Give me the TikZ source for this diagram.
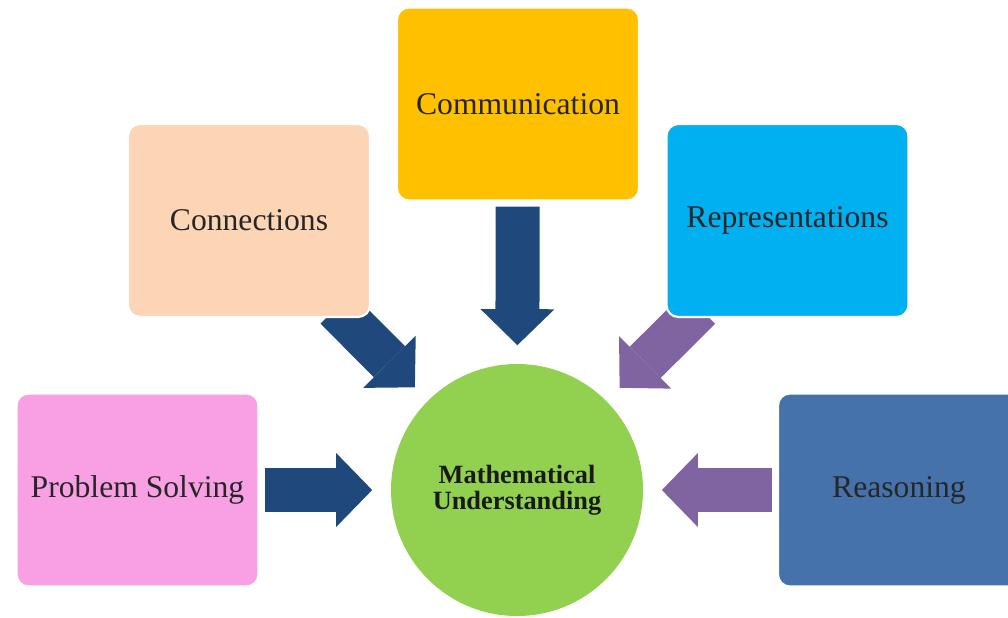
\documentclass[tikz,border=0pt]{standalone}
\usepackage{fontspec}
\setmainfont{Liberation Serif}
\usetikzlibrary{arrows.meta, backgrounds}

\definecolor{pinkbox}{RGB}{249,160,228}
\definecolor{peachbox}{RGB}{251,213,181}
\definecolor{goldbox}{RGB}{255,192,0}
\definecolor{cyanbox}{RGB}{0,176,240}
\definecolor{bluebox}{RGB}{70,114,172}
\definecolor{greencirc}{RGB}{146,208,80}
\definecolor{navyarrow}{RGB}{31,73,125}
\definecolor{purplearrow}{RGB}{128,100,162}

\begin{document}
\begin{tikzpicture}[
  box/.style={rectangle,rounded corners=0.24cm,minimum width=4.84cm,minimum height=3.86cm,
    draw=white,line width=1.2pt,align=center,text=black!85,font=\fontsize{18}{21}\selectfont},
  fat/.style={line width=0.88cm,-{Triangle[length=0.72cm 0 0,width=1.48cm 0 0,line width=0pt]},
    shorten <=0.1cm,shorten >=0.37cm}]

\useasboundingbox (0,0) rectangle (20.16,-12.34);
\clip (0,0) rectangle (20.16,-12.34);

\node (ps) at (2.75,-9.8) [box,fill=pinkbox] {Problem Solving};
\node (conn) at (4.98,-4.41) [box,fill=peachbox] {Connections};
\node (comm) at (10.36,-2.08) [box,fill=goldbox] {Communication};
\node (repr) at (15.75,-4.41) [box,fill=cyanbox] {Representations};
\node (reas) at (17.98,-9.8) [box,fill=bluebox] {Reasoning};

\node (mu) at (10.34,-9.8) [circle,minimum size=5.04cm,fill=greencirc,align=center,
  text=black!90,font=\bfseries\fontsize{15}{15}\selectfont] {Mathematical\\Understanding};

% arrows go under the boxes
\begin{scope}[on background layer]
\draw[fat,navyarrow] (ps) -- (mu);
\draw[fat,navyarrow,shorten <=-0.28cm] (conn) -- (mu);
\draw[fat,navyarrow] (comm) -- (mu);
\draw[fat,purplearrow,shorten <=-0.28cm] (repr) -- (mu);
\draw[fat,purplearrow] (reas) -- (mu);
\end{scope}

\end{tikzpicture}
\end{document}
